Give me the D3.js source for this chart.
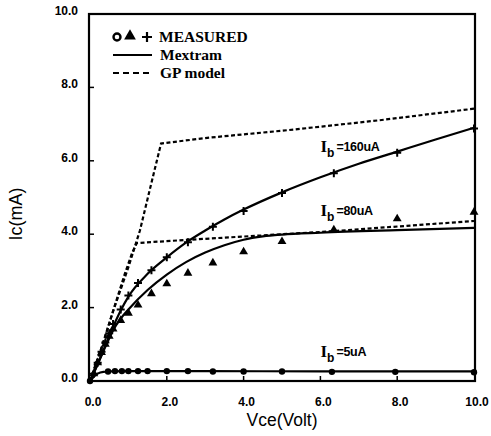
<!DOCTYPE html>
<html><head><meta charset="utf-8">
<script src="https://cdn.jsdelivr.net/npm/d3@7"></script>
<style>body{margin:0;background:#fff}svg{display:block}</style>
</head><body>
<script>
// ---- data ----
const xTicks = [0, 2, 4, 6, 8, 10];
const yTicks = [0, 2, 4, 6, 8, 10];
const tickLabel = d => d.toFixed(1);

// measured points (Vce [V], Ic [mA])
const measVce5   = [0, 0.47, 0.65, 0.83, 1.0, 1.25, 1.5, 2.0, 2.55, 3.2, 4.0, 5.0, 6.3, 7.95, 10.0];
const measIc5    = [0, 0.26, 0.27, 0.27, 0.27, 0.27, 0.27, 0.27, 0.27, 0.26, 0.26, 0.26, 0.25, 0.25, 0.24];
const measVce80  = [0.1, 0.2, 0.3, 0.4, 0.5, 0.6, 0.8, 1.0, 1.25, 1.6, 2.0, 2.55, 3.2, 4.0, 5.0, 6.35, 8.0, 10.0];
const measIc80   = [0.2, 0.5, 0.78, 1.0, 1.22, 1.42, 1.65, 1.85, 2.07, 2.38, 2.65, 2.94, 3.22, 3.52, 3.8, 4.12, 4.42, 4.6];
const measVce160 = [0.1, 0.2, 0.3, 0.4, 0.5, 0.6, 0.8, 1.0, 1.25, 1.6, 2.0, 2.55, 3.2, 4.0, 5.0, 6.35, 8.0, 10.0];
const measIc160  = [0.2, 0.5, 0.8, 1.05, 1.3, 1.55, 1.95, 2.33, 2.67, 3.02, 3.37, 3.78, 4.2, 4.63, 5.12, 5.66, 6.22, 6.88];

// Mextram model curves
const mexVce5   = [0, 0.1, 0.2, 0.35, 0.5, 1.0, 3.0, 6.0, 10.0];
const mexIc5    = [0, 0.12, 0.2, 0.25, 0.26, 0.27, 0.27, 0.26, 0.26];
const mexVce80  = [0, 0.2, 0.4, 0.6, 0.8, 1.0, 1.5, 2.0, 2.5, 3.0, 3.5, 4.0, 4.5, 5.0, 6.0, 8.0, 10.0];
const mexIc80   = [0, 0.45, 0.93, 1.38, 1.7, 1.95, 2.48, 2.9, 3.24, 3.5, 3.7, 3.85, 3.94, 3.99, 4.04, 4.11, 4.17];
const mexVce160 = [0, 0.2, 0.4, 0.6, 0.8, 1.0, 1.5, 2.0, 2.5, 3.0, 3.5, 4.0, 5.0, 6.0, 7.0, 8.0, 9.0, 10.0];
const mexIc160  = [0, 0.47, 0.97, 1.47, 1.92, 2.3, 2.92, 3.37, 3.77, 4.1, 4.4, 4.67, 5.14, 5.55, 5.92, 6.25, 6.58, 6.9];

// GP model curves
const gpVce80  = [0, 0.3, 0.6, 0.9, 1.1, 1.22, 2.6, 6.15, 10.0];
const gpIc80   = [0, 0.9, 1.9, 2.9, 3.5, 3.76, 3.85, 4.07, 4.36];
const gpVce160 = [0, 0.3, 0.6, 1.0, 1.3, 1.6, 1.85, 3.0, 5.3, 7.5, 10.0];
const gpIc160  = [0, 0.9, 1.9, 3.1, 4.1, 5.4, 6.47, 6.62, 6.85, 7.1, 7.42];

const curveLabels = [
  {ib: "b", rest: "=160uA", x: 5.95, y: 6.25},
  {ib: "b", rest: "=80uA",  x: 5.95, y: 4.5},
  {ib: "b", rest: "=5uA",   x: 5.95, y: 0.65}
];

// ---- drawing ----
const W = 491, H = 436;
const svg = d3.select("body").append("svg").attr("width", W).attr("height", H);
const x = d3.scaleLinear().domain([0, 10]).range([90, 474]);
const y = d3.scaleLinear().domain([0, 10]).range([381, 14]);

const zip = (a, b) => a.map((v, i) => [v, b[i]]);

// frame
svg.append("rect").attr("x", x(0) - 1).attr("y", y(10)).attr("width", x(10) - x(0) + 2).attr("height", y(0) - y(10))
  .attr("fill", "none").attr("stroke", "#000").attr("stroke-width", 2.2);

// ticks
svg.append("g").selectAll("line").data(xTicks.slice(1, -1)).join("line")
  .attr("x1", d => x(d)).attr("x2", d => x(d)).attr("y1", y(0)).attr("y2", y(0) - 5)
  .attr("stroke", "#000").attr("stroke-width", 1.5);
svg.append("g").selectAll("line").data(yTicks.slice(1, -1)).join("line")
  .attr("x1", x(0)).attr("x2", x(0) + 4).attr("y1", d => y(d)).attr("y2", d => y(d))
  .attr("stroke", "#000").attr("stroke-width", 1.5);

// tick labels
const tickFont = "'Liberation Sans', Arial, sans-serif";
svg.append("g").selectAll("text").data(xTicks).join("text")
  .attr("x", d => x(d) + 3).attr("y", 406).attr("text-anchor", "middle")
  .attr("font-family", tickFont).attr("font-weight", "bold").attr("font-size", 12)
  .text(tickLabel);
svg.append("g").selectAll("text").data(yTicks).join("text")
  .attr("x", 78).attr("y", d => y(d) + 1).attr("text-anchor", "end")
  .attr("font-family", tickFont).attr("font-weight", "bold").attr("font-size", 12)
  .text(tickLabel);

// axis titles
svg.append("text").attr("x", 282).attr("y", 426).attr("text-anchor", "middle")
  .attr("font-family", tickFont).attr("font-size", 17.5).text("Vce(Volt)");
svg.append("text").attr("transform", "translate(22,214) rotate(-90)").attr("text-anchor", "middle")
  .attr("font-family", tickFont).attr("font-size", 18).text("Ic(mA)");

// lines
const solid = d3.line().x(d => x(d[0])).y(d => y(d[1])).curve(d3.curveMonotoneX);
const dashed = d3.line().x(d => x(d[0])).y(d => y(d[1]));
const g = svg.append("g").attr("fill", "none").attr("stroke", "#000");
[zip(gpVce80, gpIc80), zip(gpVce160, gpIc160)].forEach(p =>
  g.append("path").attr("d", dashed(p)).attr("stroke-width", 2.2).attr("stroke-dasharray", "4,2.5"));
[zip(mexVce5, mexIc5), zip(mexVce80, mexIc80), zip(mexVce160, mexIc160)].forEach(p =>
  g.append("path").attr("d", solid(p)).attr("stroke-width", 2.2));

// markers
const tri = d3.symbol().type(d3.symbolTriangle).size(34);
svg.append("g").selectAll("circle").data(zip(measVce5, measIc5)).join("circle")
  .attr("cx", d => x(d[0])).attr("cy", d => y(d[1])).attr("r", 3.2).attr("fill", "#000");
svg.append("g").selectAll("path").data(zip(measVce80, measIc80)).join("path")
  .attr("transform", d => `translate(${x(d[0])},${y(d[1])})`).attr("d", tri).attr("fill", "#000");
const plus = (cx, cy, s) => `M${cx - s},${cy}L${cx + s},${cy}M${cx},${cy - s}L${cx},${cy + s}`;
svg.append("g").selectAll("path").data(zip(measVce160, measIc160)).join("path")
  .attr("d", d => plus(x(d[0]), y(d[1]), 4)).attr("stroke", "#000").attr("stroke-width", 2).attr("fill", "none");

// curve labels
const lab = svg.append("g").attr("font-family", tickFont).attr("font-weight", "bold");
curveLabels.forEach(c => {
  const t = lab.append("text").attr("x", x(c.x) + 2).attr("y", y(c.y));
  t.append("tspan").attr("font-size", 17).attr("font-family", "'Liberation Serif', serif").text("I");
  t.append("tspan").attr("font-size", 12).attr("dy", 5).text(c.ib);
  t.append("tspan").attr("font-size", 12.5).attr("dy", -6).attr("dx", 2).attr("letter-spacing", -0.3).text(c.rest);
});

// legend
const lg = svg.append("g").attr("font-family", "'Liberation Serif', 'Times New Roman', serif").attr("font-weight", "bold").attr("font-size", 15.5);
lg.append("circle").attr("cx", 117).attr("cy", 37).attr("r", 3.5).attr("fill", "none").attr("stroke", "#000").attr("stroke-width", 2.4);
lg.append("path").attr("transform", "translate(130,36)").attr("d", d3.symbol().type(d3.symbolTriangle).size(60)).attr("fill", "#000");
lg.append("path").attr("d", plus(147, 37, 5)).attr("stroke", "#000").attr("stroke-width", 2.2);
lg.append("text").attr("x", 159).attr("y", 42).text("MEASURED");
lg.append("line").attr("x1", 113).attr("x2", 152).attr("y1", 55).attr("y2", 55).attr("stroke", "#000").attr("stroke-width", 2);
lg.append("text").attr("x", 160).attr("y", 60).text("Mextram");
lg.append("line").attr("x1", 113).attr("x2", 152).attr("y1", 73).attr("y2", 73).attr("stroke", "#000").attr("stroke-width", 2.2).attr("stroke-dasharray", "6,4");
lg.append("text").attr("x", 160).attr("y", 78).text("GP model");
</script>
</body></html>
